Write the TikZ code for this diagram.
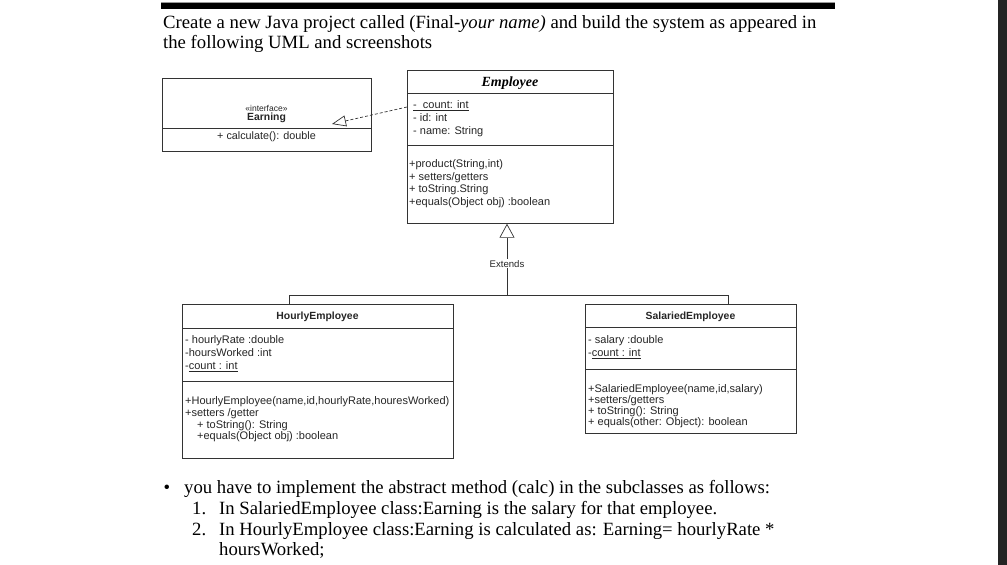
\documentclass[tikz,border=0pt]{standalone}
\usepackage{fontspec}
\setmainfont{Liberation Serif}
\setsansfont{Liberation Sans}
\usetikzlibrary{arrows.meta}

\begin{document}
\begin{tikzpicture}[x=1pt,y=-1pt]
	\tikzstyle{cls}=[draw=black!80, line width=0.7pt, inner sep=0pt, anchor=north west]
	\tikzstyle{cmp}=[anchor=north west, align=left, inner sep=0pt, text=black!85, font=\sffamily\fontsize{11}{12.5}\selectfont]
	\tikzstyle{ttl}=[text=black!85, font=\sffamily\bfseries\fontsize{10.4}{12}\selectfont]
	\tikzstyle{para}=[anchor=base west, inner sep=0pt, font=\fontsize{18.7}{21}\selectfont]
	\tikzstyle{inh}=[-{Triangle[open,width=15pt,length=14pt]}, black!80, line width=0.7pt]
	\tikzstyle{real}=[-{Triangle[open,width=11pt,length=14pt]}, black!80, line width=0.7pt, dash pattern=on 3pt off 2pt]

	\fill[white] (0,0) rectangle (1007,565);
	\useasboundingbox (0,0) rectangle (1007,565);
	\fill[black!86] (998,0) rectangle (1007,565);

	% heading
	\fill[black!40] (161,1.5) rectangle (835,3);
	\fill[black] (161,3) rectangle (835,8.5);
	\node[para] (head1) at (163,28) {Create a new Java project called (Final-\textit{your name)} and build the system as appeared in};
	\node[para] (head2) at (163,48) {the following UML and screenshots};

	% class boxes
	\node[cls, minimum width=209pt, minimum height=73pt] (earn) at (162,78) {};
	\node[cls, minimum width=206pt, minimum height=153pt] (emp) at (407,70) {};
	\node[cls, minimum width=271pt, minimum height=154pt] (hrly) at (182,304) {};
	\node[cls, minimum width=211pt, minimum height=129pt] (sal) at (585,304) {};

	\foreach \nd/\y in {earn/128, emp/93, emp/145, hrly/328, hrly/381, sal/327, sal/369}
	\draw[black!80, line width=0.7pt] (\nd.west |- 0,\y) -- (\nd.east |- 0,\y);

	% titles
	\node[text=black!85, font=\sffamily\fontsize{8.5}{9}\selectfont] (earnS) at (266.5,108) {«interface»};
	\node[ttl] (earnT) at (266.5,117.5) {Earning};
	\node[font=\fontsize{14}{16}\selectfont\bfseries\itshape] (empT) at (510,83) {Employee};
	\node[ttl] (hrlyT) at (317.5,317) {HourlyEmployee};
	\node[ttl] (salT) at (690.5,317) {SalariedEmployee};

	% members
	\node[text=black!85, font=\sffamily\fontsize{10.8}{12}\selectfont] (earnM) at (266.5,137) {+ calculate(): double};
	\node[cmp, font=\sffamily\fontsize{11}{13}\selectfont] (empA) at (413,100.5) {\underline{-\ \ count: int}\\- id: int\\- name: String};
	\node[cmp] (empM) at (409,159.5) {+product(String,int)\\+ setters/getters\\+ toString.String\\+equals(Object obj) :boolean};
	\node[cmp, font=\sffamily\fontsize{11}{13}\selectfont] (hrlyA) at (185,335.5) {- hourlyRate :double\\-hoursWorked :int\\-\underline{count : int}};
	\node[cmp, font=\sffamily\fontsize{11}{11.7}\selectfont] (hrlyM) at (185,396.5) {+HourlyEmployee(name,id,hourlyRate,houresWorked)\\+setters /getter\\\hspace*{12pt}+ toString(): String\\\hspace*{12pt}+equals(Object obj) :boolean};
	\node[cmp, font=\sffamily\fontsize{11}{13}\selectfont] (salA) at (588,335.5) {- salary :double\\-\underline{count : int}};
	\node[cmp, font=\sffamily\fontsize{11}{11}\selectfont] (salM) at (588,384.5) {+SalariedEmployee(name,id,salary)\\+setters/getters\\+ toString(): String\\+ equals(other: Object): boolean};

	% connectors
	\coordinate (join) at (507,295);
	\coordinate (hjoin) at (289,295);
	\coordinate (sjoin) at (728,295);
	\coordinate (etip) at (332,124);
	\draw[inh] (join) -- node[pos=0.44, fill=white, text=black!85, font=\sffamily\fontsize{9.6}{10}\selectfont, inner sep=1pt] (ext) {Extends} (join |- emp.south);
	\draw[black!80, line width=0.7pt] (hrly.north -| hjoin) -- (hjoin) -- (sjoin) -- (sal.north -| sjoin);
	\draw[real] (emp.west |- 0,107) -- (etip);

	% task text
	\node[para, anchor=base] (bul) at (167,493) {•};
	\node[para] (txt0) at (184,493) {you have to implement the abstract method (calc) in the subclasses as follows:};
	\node[para] (num1) at (192,514) {1.};
	\node[para] (txt1) at (219,514) {In SalariedEmployee class:Earning is the salary for that employee.};
	\node[para] (num2) at (192,535) {2.};
	\node[para] (txt2) at (219,535) {In HourlyEmployee class:Earning is calculated as: Earning= hourlyRate *};
	\node[para] (txt3) at (219,555) {hoursWorked;};
\end{tikzpicture}
\end{document}
